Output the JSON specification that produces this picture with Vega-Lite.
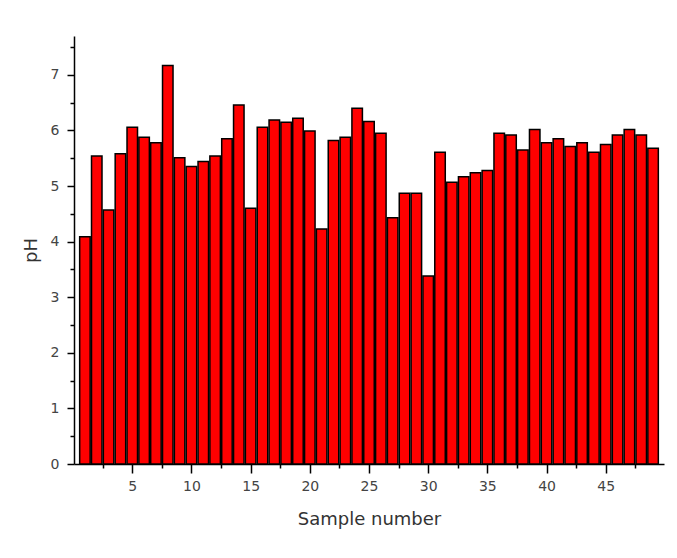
{
  "$schema": "https://vega.github.io/schema/vega-lite/v6.json",
  "width": 590,
  "height": 428,
  "autosize": "none",
  "padding": {"left": 74, "top": 36, "right": 13, "bottom": 94},
  "background": "white",
  "config": {
    "view": {"stroke": null},
    "axis": {
      "domainColor": "#000000",
      "domainWidth": 1.5,
      "tickColor": "#000000",
      "tickWidth": 1.5,
      "labelFont": "DejaVu Sans",
      "labelFontSize": 14,
      "labelColor": "#444444",
      "titleFont": "DejaVu Sans",
      "titleFontSize": 18,
      "titleFontWeight": "normal",
      "titleColor": "#333333",
      "grid": false,
      "labelOverlap": false,
      "labelFlush": false
    }
  },
  "data": {
    "values": [
      {"sample": 1, "pH": 4.09},
      {"sample": 2, "pH": 5.54},
      {"sample": 3, "pH": 4.57},
      {"sample": 4, "pH": 5.58},
      {"sample": 5, "pH": 6.06},
      {"sample": 6, "pH": 5.88},
      {"sample": 7, "pH": 5.78},
      {"sample": 8, "pH": 7.17},
      {"sample": 9, "pH": 5.51},
      {"sample": 10, "pH": 5.35},
      {"sample": 11, "pH": 5.44},
      {"sample": 12, "pH": 5.54},
      {"sample": 13, "pH": 5.85},
      {"sample": 14, "pH": 6.46},
      {"sample": 15, "pH": 4.6},
      {"sample": 16, "pH": 6.06},
      {"sample": 17, "pH": 6.19},
      {"sample": 18, "pH": 6.15},
      {"sample": 19, "pH": 6.22},
      {"sample": 20, "pH": 5.99},
      {"sample": 21, "pH": 4.23},
      {"sample": 22, "pH": 5.82},
      {"sample": 23, "pH": 5.88},
      {"sample": 24, "pH": 6.4},
      {"sample": 25, "pH": 6.16},
      {"sample": 26, "pH": 5.95},
      {"sample": 27, "pH": 4.43},
      {"sample": 28, "pH": 4.87},
      {"sample": 29, "pH": 4.87},
      {"sample": 30, "pH": 3.38},
      {"sample": 31, "pH": 5.61},
      {"sample": 32, "pH": 5.07},
      {"sample": 33, "pH": 5.17},
      {"sample": 34, "pH": 5.24},
      {"sample": 35, "pH": 5.28},
      {"sample": 36, "pH": 5.95},
      {"sample": 37, "pH": 5.92},
      {"sample": 38, "pH": 5.65},
      {"sample": 39, "pH": 6.02},
      {"sample": 40, "pH": 5.78},
      {"sample": 41, "pH": 5.85},
      {"sample": 42, "pH": 5.71},
      {"sample": 43, "pH": 5.78},
      {"sample": 44, "pH": 5.61},
      {"sample": 45, "pH": 5.75},
      {"sample": 46, "pH": 5.92},
      {"sample": 47, "pH": 6.02},
      {"sample": 48, "pH": 5.92},
      {"sample": 49, "pH": 5.68}
    ]
  },
  "mark": {"type": "bar", "width": 10.5, "fill": "#ff0000", "stroke": "#000000", "strokeWidth": 1.5},
  "encoding": {
    "x": {
      "field": "sample",
      "type": "quantitative",
      "scale": {"domain": [0.5, 49.5], "nice": false, "zero": false},
      "axis": {
        "title": "Sample number",
        "values": [2.5, 5, 7.5, 10, 12.5, 15, 17.5, 20, 22.5, 25, 27.5, 30, 32.5, 35, 37.5, 40, 42.5, 45, 47.5],
        "format": "~g",
        "labelExpr": "datum.value % 5 === 0 ? datum.label : ''",
        "tickSize": {"condition": {"test": "datum.value % 5 !== 0", "value": 4}, "value": 9},
        "labelPadding": 6,
        "titlePadding": 17
      }
    },
    "y": {
      "field": "pH",
      "type": "quantitative",
      "scale": {"domain": [0, 7.7], "nice": false},
      "axis": {
        "title": "pH",
        "values": [0, 0.5, 1, 1.5, 2, 2.5, 3, 3.5, 4, 4.5, 5, 5.5, 6, 6.5, 7, 7.5],
        "format": "~g",
        "labelExpr": "datum.value % 1 === 0 ? datum.label : ''",
        "tickSize": {"condition": {"test": "datum.value % 1 !== 0", "value": 4}, "value": 7},
        "labelPadding": 8,
        "titlePadding": 10
      }
    }
  }
}
